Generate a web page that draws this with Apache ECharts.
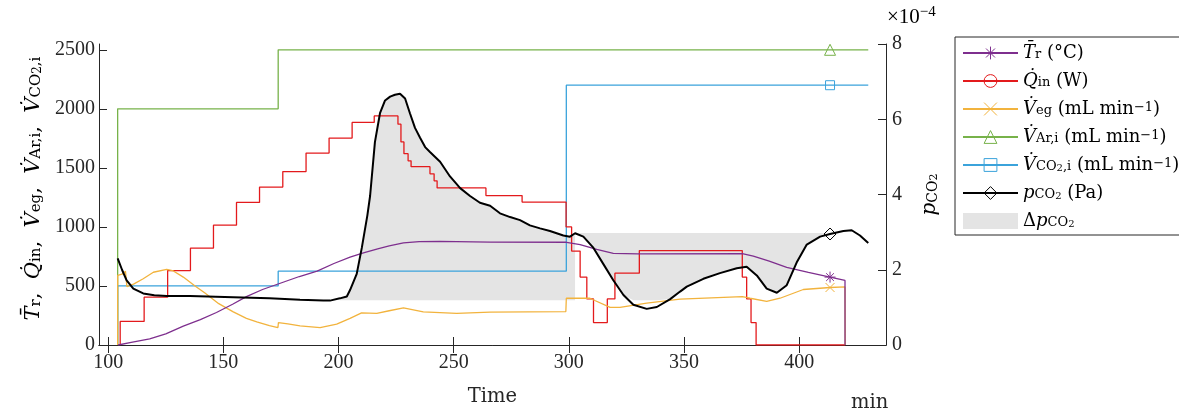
<!DOCTYPE html>
<html>
<head>
<meta charset="utf-8">
<script src="https://cdn.jsdelivr.net/npm/echarts@6/dist/echarts.min.js"></script>
<style>
  html, body { margin: 0; padding: 0; background: #fff; }
  #chart { width: 1179px; height: 412px; }
</style>
</head>
<body>
<div id="chart"></div>
<script>
// ---- data ----
const xTicks = [100, 150, 200, 250, 300, 350, 400]
const yLeftTicks = [0, 500, 1000, 1500, 2000, 2500]
const yRightTicks = [0, 2, 4, 6, 8]

// mean reactor temperature (°C)
const trTime = [104.3, 105.1, 110, 118, 125, 132.6, 140, 147, 154, 160, 167, 175, 183, 190.7, 198, 205, 210.8, 217, 222, 228.2, 235, 244, 265.8, 299, 304.9, 312.1, 319.3, 330, 375.3, 380.1, 387, 394.6, 404, 413.4, 419.9, 419.9]
const trVal = [0, 10, 22, 52, 95, 160, 215, 275, 345, 410, 470, 525, 580, 625, 690, 745, 780, 815, 840, 864, 875, 877, 872, 870, 850, 809, 776, 772, 773, 753, 710, 658, 615, 575, 547, 0]

// heat input (W), stepwise
const qinTime = [105.2, 105.2, 115.6, 115.6, 125.8, 125.8, 135.7, 135.7, 145.7, 145.7, 155.7, 155.7, 165.7, 165.7, 175.8, 175.8, 185.9, 185.9, 195.9, 195.9, 205.9, 205.9, 215.5, 215.5, 225.8, 225.8, 227.1, 227.1, 228.4, 228.4, 230.2, 230.2, 231.5, 231.5, 239.7, 239.7, 241.5, 241.5, 242.8, 242.8, 264, 264, 279.7, 279.7, 298.8, 298.8, 301.2, 301.2, 304.9, 304.9, 307.8, 307.8, 310.7, 310.7, 316.7, 316.7, 320, 320, 330.6, 330.6, 375.3, 375.3, 377.2, 377.2, 379.1, 379.1, 381.3, 381.3, 420]
const qinVal = [0, 200, 200, 405, 405, 630, 630, 820, 820, 1015, 1015, 1207, 1207, 1337, 1337, 1469, 1469, 1625, 1625, 1752, 1752, 1885, 1885, 1940, 1940, 1870, 1870, 1720, 1720, 1620, 1620, 1560, 1560, 1510, 1510, 1450, 1450, 1390, 1390, 1330, 1330, 1265, 1265, 1210, 1210, 1000, 1000, 795, 795, 575, 575, 390, 390, 190, 190, 390, 390, 608, 608, 800, 800, 575, 575, 390, 390, 190, 190, 0, 0]

// exhaust gas flow (mL/min)
const vegTime = [104.1, 104.1, 106, 107.5, 108.1, 111, 115.2, 119.6, 125.4, 128.3, 132.6, 137.7, 142, 148, 154.3, 160, 164.5, 170, 173.7, 173.9, 178, 183.3, 192, 199.2, 205, 210, 216.6, 222, 228.2, 236.8, 251.3, 265.8, 298.7, 298.9, 309.2, 311.3, 317.9, 322.2, 333.8, 348.3, 375.3, 378.7, 385.9, 391.7, 401.8, 413.4, 419.9, 420]
const vegVal = [0, 590, 600, 625, 495, 515, 561, 616, 641, 627, 575, 500, 440, 350, 280, 225, 195, 165, 148, 190, 178, 162, 148, 176, 225, 272, 267, 290, 314, 280, 267, 278, 283, 396, 396, 377, 319, 318, 355, 388, 410, 396, 369, 396, 470, 487, 492, 0]

// argon inflow (mL/min)
const varTime = [104.1, 104.1, 173.8, 173.8, 413.4, 430]
const varVal = [0, 2000, 2000, 2500, 2500, 2500]

// CO2 inflow (mL/min)
const vco2Time = [104.1, 104.1, 173.8, 173.8, 298.9, 298.9, 413.4, 430]
const vco2Val = [0, 500, 500, 625, 625, 2200, 2200, 2200]

// CO2 partial pressure (x 1e-4, right axis)
const pTime = [104.1, 106, 108, 110.9, 115.2, 120, 125.4, 135.5, 154.3, 170, 183.3, 193.4, 196.3, 200.6, 203.6, 205, 207.9, 210.1, 212.5, 213.7, 215.8, 218, 220.2, 222.4, 224.5, 226.7, 228.9, 231, 233.2, 235.4, 237.6, 239.7, 244.1, 248.4, 252.8, 257.1, 261.4, 265.8, 270.1, 274.5, 278.8, 283.1, 287.5, 291.8, 297.6, 300.5, 302.7, 303.4, 306.3, 310.7, 315, 319.3, 323.7, 328, 333.8, 338.2, 344, 348.3, 351.2, 358.4, 365.6, 372.9, 377.2, 381.6, 385.9, 390.3, 394.6, 398.9, 403.3, 409.1, 413.4, 419.2, 422.8, 426.4, 430]
const pVal = [2.30, 2.00, 1.72, 1.50, 1.37, 1.32, 1.30, 1.30, 1.27, 1.24, 1.20, 1.18, 1.18, 1.24, 1.29, 1.46, 1.89, 2.58, 3.44, 3.96, 5.39, 6.16, 6.50, 6.60, 6.65, 6.68, 6.55, 6.16, 5.77, 5.51, 5.26, 5.13, 4.87, 4.48, 4.17, 3.96, 3.78, 3.70, 3.50, 3.40, 3.32, 3.18, 3.10, 3.03, 2.91, 2.88, 2.97, 3.01, 2.88, 2.58, 2.15, 1.72, 1.33, 1.07, 0.96, 1.01, 1.22, 1.42, 1.55, 1.76, 1.91, 2.04, 2.08, 1.85, 1.50, 1.39, 1.59, 2.19, 2.67, 2.88, 2.95, 3.03, 3.05, 2.91, 2.71]

// reference levels of the shaded delta p regions (x 1e-4)
const dpRef1 = 1.19
const dpRef2 = 2.98
const dpSeg1 = [200.6, 302.7]
const dpSeg2 = [302.7, 413.4]

const markTime = 413.4

// ---- styling ----
const NUM_FONT = '"Liberation Serif", serif'
const TXT_FONT = '"DejaVu Serif", "Liberation Serif", serif'
const INK = '#262626'
const colors = {
  tr: '#7E2F8E',
  qin: '#E31A1C',
  veg: '#F2B33D',
  var: '#77B24A',
  vco2: '#3BA3DB',
  p: '#000000',
  dp: '#E4E4E4'
}

// rich text pieces: m normal, it italic, sb subscript, ssb sub-subscript, sp superscript
const richSet = (size, family, lh) => ({
  m: { fontFamily: family, fontSize: size, lineHeight: lh, verticalAlign: 'middle', color: '#000' },
  it: { fontFamily: family, fontSize: size, lineHeight: lh, verticalAlign: 'middle', fontStyle: 'italic', color: '#000' },
  sb: { fontFamily: family, fontSize: Math.round(size * 0.7), lineHeight: 4, verticalAlign: 'bottom', color: '#000' },
  ssb: { fontFamily: family, fontSize: Math.round(size * 0.55), lineHeight: 1, verticalAlign: 'bottom', color: '#000' },
  sp: { fontFamily: family, fontSize: Math.round(size * 0.72), lineHeight: 2, verticalAlign: 'top', color: '#000' }
})

const mlmin = '{m| (mL min}{sp|\u22121}{m|)}'
const legendLabels = {
  tr: '{it|T\u0304}{sb|r}{m| (\u00B0C)}',
  qin: '{it|Q\u0307}{sb|in}{m| (W)}',
  veg: '{it|V\u0307}{sb|eg}' + mlmin,
  var: '{it|V\u0307}{sb|Ar,i}' + mlmin,
  vco2: '{it|V\u0307}{sb|CO}{ssb|2}{sb|,i}' + mlmin,
  p: '{it|p}{sb|CO}{ssb|2}{m| (Pa)}',
  dp: '{m|\u0394}{it|p}{sb|CO}{ssb|2}'
}

const symbols = {
  tr: 'path://M0,-10L0,10M-10,0L10,0M-7,-7L7,7M-7,7L7,-7',
  qin: 'circle',
  veg: 'path://M-7,-7L7,7M-7,7L7,-7',
  var: 'triangle',
  vco2: 'rect',
  p: 'diamond'
}

const pairs = (times, vals) => times.map((t, i) => [t, vals[i]])

const lineSeries = (key, times, vals, yAxisIndex, width, markSize) => {
  const markIdx = times.indexOf(markTime)
  return {
    name: key,
    type: 'line',
    yAxisIndex: yAxisIndex,
    data: pairs(times, vals),
    symbol: symbols[key],
    symbolSize: (v, params) => (params.dataIndex === markIdx ? markSize : 0),
    showSymbol: true,
    showAllSymbol: true,
    lineStyle: { color: colors[key], width: width },
    itemStyle: { color: 'rgba(0,0,0,0)', borderColor: colors[key], borderWidth: 1 },
    z: 3,
    silent: true
  }
}

// shaded delta p: first part between the curve and the lower level,
// second part between the upper level and the curve (not below the lower level)
const dp1 = pTime.map((t, i) => [t, pVal[i]]).filter(d => d[0] >= dpSeg1[0] && d[0] <= dpSeg1[1])
const dp2 = pTime.map((t, i) => [t, Math.max(pVal[i], dpRef1)]).filter(d => d[0] >= dpSeg2[0] && d[0] <= dpSeg2[1])

const areaSeries = (data, origin) => ({
  name: 'dp',
  type: 'line',
  yAxisIndex: 1,
  data: data,
  symbol: 'none',
  lineStyle: { width: 0, opacity: 0 },
  areaStyle: { color: colors.dp, opacity: 1, origin: origin },
  itemStyle: { color: colors.dp },
  z: 1,
  silent: true
})

const legendItem = (key) => key === 'dp'
  ? { name: 'dp', icon: 'rect', itemStyle: { color: colors.dp, borderWidth: 0 } }
  : {
      name: key,
      itemStyle: { color: 'rgba(0,0,0,0)', borderColor: colors[key], borderWidth: 1 },
      lineStyle: { color: colors[key], width: 2 }
    }

const chart = echarts.init(document.getElementById('chart'))

const tickLabel = { fontFamily: NUM_FONT, fontSize: 20, color: INK }

const option = {
  animation: false,
  backgroundColor: '#fff',
  grid: { left: 99, right: 293, top: 44, bottom: 59 },
  legend: {
    orient: 'vertical',
    left: 955,
    top: 37,
    padding: [7, 30, 5, 7],
    itemGap: 10,
    itemWidth: 55,
    itemHeight: 16,
    borderColor: INK,
    borderWidth: 1,
    backgroundColor: '#fff',
    selectedMode: false,
    textStyle: { fontFamily: TXT_FONT, fontSize: 18, rich: richSet(18, TXT_FONT, 16) },
    formatter: (name) => legendLabels[name],
    data: ['tr', 'qin', 'veg', 'var', 'vco2', 'p', 'dp'].map(legendItem)
  },
  xAxis: [
    {
      type: 'value',
      min: 96,
      max: 437.7,
      position: 'bottom',
      axisLine: { lineStyle: { color: INK, width: 1 } },
      axisTick: { inside: true, length: 8, customValues: xTicks, lineStyle: { color: INK } },
      axisLabel: Object.assign({ customValues: xTicks, margin: 8 }, tickLabel),
      splitLine: { show: false },
      name: 'Time',
      nameLocation: 'middle',
      nameGap: 42,
      nameTextStyle: { fontFamily: TXT_FONT, fontSize: 19.5, color: INK }
    },
    {
      type: 'value',
      min: 96,
      max: 437.7,
      position: 'top',
      axisLine: { lineStyle: { color: INK, width: 1 } },
      axisTick: { inside: true, length: 8, customValues: xTicks, lineStyle: { color: INK } },
      axisLabel: { show: false },
      splitLine: { show: false }
    }
  ],
  yAxis: [
    {
      type: 'value',
      min: 0,
      max: 2549,
      position: 'left',
      axisLine: { show: true, lineStyle: { color: INK, width: 1 } },
      axisTick: { show: true, inside: true, length: 8, customValues: yLeftTicks, lineStyle: { color: INK } },
      axisLabel: Object.assign({ customValues: yLeftTicks, margin: 4, formatter: (v) => String(v) }, tickLabel),
      splitLine: { show: false },
      name: '{it|T\u0304}{sb|r}{m|,  }{it|Q\u0307}{sb|in}{m|,  }{it|V\u0307}{sb|eg}{m|,  }{it|V\u0307}{sb|Ar,i}{m|,  }{it|V\u0307}{sb|CO}{ssb|2}{sb|,i}',
      nameLocation: 'middle',
      nameRotate: 90,
      nameGap: 55,
      nameTextStyle: { fontFamily: TXT_FONT, fontSize: 21, rich: richSet(21, TXT_FONT, 20), padding: [0, 0, 0, 12] }
    },
    {
      type: 'value',
      min: 0,
      max: 8,
      interval: 2,
      position: 'right',
      axisLine: { show: true, lineStyle: { color: INK, width: 1 } },
      axisTick: { show: true, inside: true, length: 8, lineStyle: { color: INK } },
      axisLabel: Object.assign({ customValues: yRightTicks, margin: 6 }, tickLabel),
      splitLine: { show: false },
      name: '{it|p}{sb|CO}{ssb|2}',
      nameLocation: 'middle',
      nameRotate: 90,
      nameGap: 34,
      nameTextStyle: { fontFamily: TXT_FONT, fontSize: 20, rich: richSet(20, TXT_FONT, 20) }
    }
  ],
  graphic: [
    {
      type: 'text',
      left: 887,
      top: 5,
      style: { text: '{m|\u00D710}{sp|\u22124}', rich: richSet(21, NUM_FONT, 24) }
    },
    {
      type: 'text',
      left: 851,
      top: 393,
      style: { text: 'min', fontFamily: TXT_FONT, fontSize: 19.5, fill: INK }
    }
  ],
  series: [
    areaSeries(dp1, dpRef1),
    areaSeries(dp2, dpRef2),
    lineSeries('var', varTime, varVal, 0, 1.3, 11),
    lineSeries('vco2', vco2Time, vco2Val, 0, 1.3, 9),
    lineSeries('qin', qinTime, qinVal, 0, 1.3, 11),
    lineSeries('veg', vegTime, vegVal, 0, 1.3, 9),
    lineSeries('tr', trTime, trVal, 0, 1.3, 11),
    lineSeries('p', pTime, pVal, 1, 2, 12)
  ]
}

chart.setOption(option)
</script>
</body>
</html>
